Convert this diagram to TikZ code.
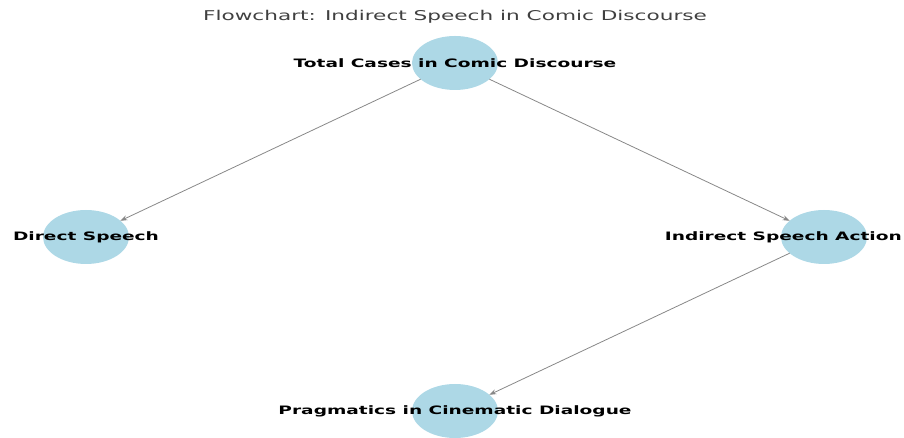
\documentclass[tikz,border=0pt]{standalone}
\usepackage{fontspec}
\usetikzlibrary{shapes.geometric,arrows.meta}
\newfontfamily\lblfont[FakeStretch=1.6]{DejaVu Sans}
\definecolor{nodeblue}{HTML}{ADD8E6}
\definecolor{edgegray}{HTML}{888888}
\definecolor{titlegray}{HTML}{404040}
\tikzset{
  blob/.style={ellipse, fill=nodeblue, minimum width=86pt, minimum height=54pt, inner sep=0pt, outer sep=0pt},
  lbl/.style={font=\lblfont\bfseries\fontsize{11.6pt}{13pt}\selectfont, text=black, inner sep=0pt},
  conn/.style={draw=edgegray, line width=0.8pt, -{Stealth[length=7pt,width=5pt]}},
}
\begin{document}
\begin{tikzpicture}[x=1pt,y=1pt]
\useasboundingbox (0,0) rectangle (904,438);
\node[font=\lblfont\fontsize{13.5pt}{16pt}\selectfont, text=titlegray] (title) at (455,421) {Flowchart: Indirect Speech in Comic Discourse};
\node[blob] (top) at (455,375) {};
\node[blob] (left) at (86,201) {};
\node[blob] (right) at (824,201) {};
\node[blob] (bottom) at (455,27) {};
\draw[conn] (top) -- (left);
\draw[conn] (top) -- (right);
\draw[conn] (right) -- (bottom);
\node[lbl] (ltop) at (top.center) {Total Cases in Comic Discourse};
\node[lbl] (lleft) at (left.center) {Direct Speech};
\node[lbl, anchor=east] (lright) at ([xshift=78pt]right.center) {Indirect Speech Action};
\node[lbl] (lbottom) at (bottom.center) {Pragmatics in Cinematic Dialogue};
\end{tikzpicture}
\end{document}
